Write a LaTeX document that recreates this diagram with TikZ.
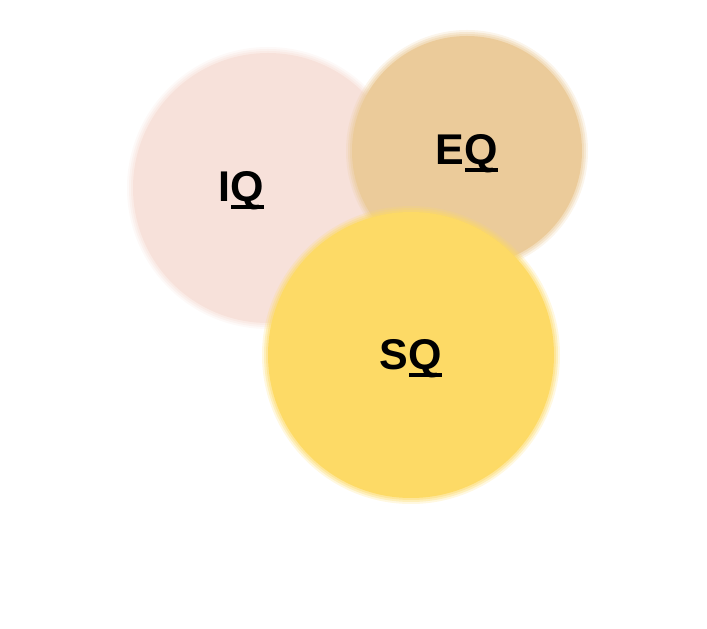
\documentclass[tikz,border=0pt]{standalone}
\usepackage{fontspec}
\setmainfont{Liberation Sans}
\definecolor{iqpink}{HTML}{F7E1DA}
\definecolor{eqtan}{HTML}{EBCB9A}
\definecolor{sqyellow}{HTML}{FDDA66}
\tikzset{
  label/.style={font=\fontsize{43}{43}\selectfont\bfseries, text=black, inner sep=0pt, anchor=center},
}
\newcommand{\tailq}{\leavevmode\rlap{\kern0.02em\rule[-0.17em]{0.76em}{0.09em}}Q}
\newcommand{\softdisc}[4]{%
  \fill[#4] (#1,#2) circle (#3-3);
  \fill[#4, opacity=0.4] (#1,#2) circle (#3-1);
  \fill[#4, opacity=0.3] (#1,#2) circle (#3+1);
  \fill[#4, opacity=0.2] (#1,#2) circle (#3+3);
}
\begin{document}
\begin{tikzpicture}[x=1pt,y=1pt]
\useasboundingbox (0,0) rectangle (707,629);
\softdisc{268}{441}{138}{iqpink}
\node[label] (iq) at (241,438) {I\tailq};
\softdisc{467}{478}{118}{eqtan}
\node[label] (eq) at (467,475) {E\tailq};
\softdisc{411}{274}{146}{sqyellow}
\node[label] (sq) at (411,270) {S\tailq};
\end{tikzpicture}
\end{document}
